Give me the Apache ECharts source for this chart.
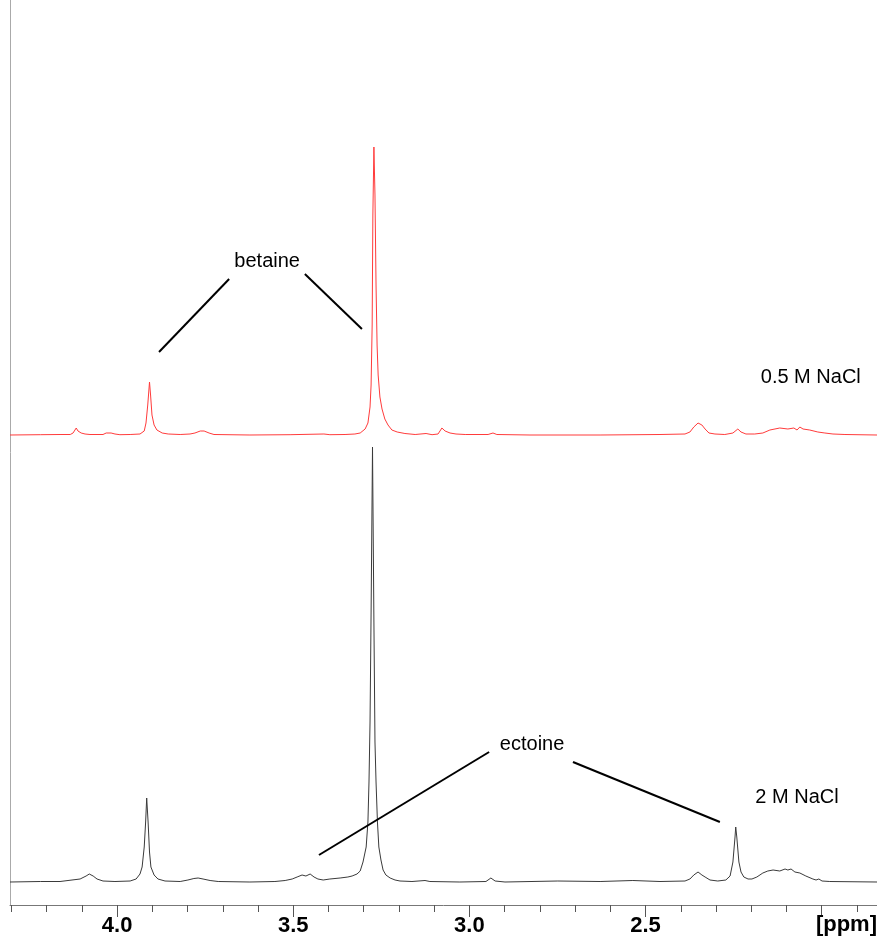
<!DOCTYPE html>
<html>
<head>
<meta charset="utf-8">
<script src="https://cdn.jsdelivr.net/npm/echarts@6/dist/echarts.min.js"></script>
<style>
  html, body { margin: 0; padding: 0; background: #fff; }
  #chart { width: 877px; height: 941px; }
</style>
</head>
<body>
<div id="chart"></div>
<script>
// Chemical shift range (ppm), axis runs right-to-left
const ppmRange = [1.843, 4.304];
const minorTicks = [1.9, 2.0, 2.1, 2.2, 2.3, 2.4, 2.5, 2.6, 2.7, 2.8, 2.9, 3.0, 3.1, 3.2, 3.3, 3.4, 3.5, 3.6, 3.7, 3.8, 3.9, 4.0, 4.1, 4.2, 4.3];
const majorTicks = [2.0, 2.5, 3.0, 3.5, 4.0];
const tickLabels = [2.5, 3.0, 3.5, 4.0];
const axisUnit = '[ppm]';

// 0.5 M NaCl spectrum [ppm, intensity]
const spectrum05M = [
  [4.304,0],[4.218,0.3],[4.162,0.5],[4.133,0.5],[4.125,2],[4.116,7],[4.111,4],[4.102,2],[4.091,1],[4.077,0.5],
  [4.040,0.5],[4.031,2],[4.026,4],[4.017,2],[4.006,1],[3.992,0.3],[3.963,0.5],[3.935,1],[3.923,4],[3.918,12],
  [3.913,30],[3.908,53],[3.905,40],[3.901,20],[3.895,10],[3.887,5],[3.872,2],[3.855,1],[3.821,0.5],[3.793,1],
  [3.779,2],[3.764,4],[3.753,4],[3.739,2],[3.725,0.5],[3.623,0],[3.509,0.3],[3.413,1],[3.396,0.3],[3.353,0.5],
  [3.325,1],[3.310,2],[3.296,6],[3.288,12],[3.282,28],[3.279,50],[3.276,110],[3.274,220],[3.271,288],[3.268,240],
  [3.265,150],[3.262,90],[3.259,60],[3.254,38],[3.248,26],[3.240,16],[3.231,10],[3.220,5],[3.205,3],[3.183,1.5],
  [3.154,0.5],[3.123,1.5],[3.106,0.3],[3.089,1],[3.078,7],[3.069,4],[3.055,2],[3.038,1],[3.012,0.5],[2.947,0.5],
  [2.933,2],[2.922,0.5],[2.828,0],[2.629,0],[2.459,0.5],[2.388,1],[2.374,3],[2.363,8],[2.351,12],[2.346,10],
  [2.340,10],[2.331,6],[2.320,2],[2.303,1],[2.275,0.5],[2.252,2],[2.238,6],[2.229,3],[2.215,1],[2.190,1],
  [2.167,2],[2.147,5],[2.119,7],[2.096,6],[2.079,7],[2.070,5],[2.062,8],[2.053,6],[2.034,5],[2.011,3],
  [1.991,2],[1.968,1],[1.934,0.5],[1.843,0]
];

// 2 M NaCl spectrum [ppm, intensity]
const spectrum2M = [
  [4.304,0],[4.218,0.5],[4.162,0.5],[4.128,2],[4.105,3],[4.088,6],[4.079,8],[4.068,6],[4.057,3],[4.040,1],
  [4.006,0.5],[3.963,1],[3.946,3],[3.935,8],[3.929,15],[3.923,35],[3.919,60],[3.916,84],[3.912,60],[3.908,30],
  [3.904,15],[3.895,7],[3.884,3],[3.864,1],[3.821,0.5],[3.799,2],[3.782,3.5],[3.770,4],[3.756,3],[3.736,1.5],
  [3.713,0.5],[3.623,0],[3.552,0.5],[3.523,1.5],[3.503,3],[3.489,5],[3.475,7],[3.464,6],[3.452,8],[3.441,5],
  [3.430,3],[3.415,2],[3.396,3],[3.367,4],[3.345,5],[3.333,6],[3.319,8],[3.310,11],[3.302,20],[3.293,35],
  [3.288,60],[3.285,100],[3.282,160],[3.279,270],[3.275,435],[3.271,260],[3.268,140],[3.265,100],[3.261,60],[3.257,35],
  [3.251,22],[3.245,12],[3.237,7],[3.225,4],[3.211,2],[3.197,1],[3.163,0.5],[3.126,1.5],[3.112,0.5],[3.027,0],
  [2.953,0.5],[2.939,4],[2.927,1],[2.899,0],[2.749,1],[2.629,0.5],[2.536,1.5],[2.459,0.5],[2.388,1],[2.374,3],
  [2.363,7],[2.351,10],[2.346,8],[2.340,7],[2.331,5],[2.317,2],[2.295,1],[2.272,2],[2.260,6],[2.252,20],
  [2.246,45],[2.244,55],[2.241,45],[2.235,20],[2.229,10],[2.221,5],[2.209,3],[2.198,3],[2.184,5],[2.167,9],
  [2.153,11],[2.138,12],[2.119,11],[2.104,13],[2.096,12],[2.087,13],[2.076,10],[2.062,9],[2.045,6],[2.025,3],
  [2.016,2],[2.008,3],[1.999,1],[1.977,0.5],[1.843,0]
];

// Annotations (data space: [ppm, intensity])
const betaineLines = [[[3.881, 83], [3.682, 156]], [[3.467, 161], [3.305, 106]]];
const betaineLabel = { text: 'betaine', at: [3.574, 174] };
const label05M = { text: '0.5 M NaCl', at: [2.031, 58] };
const ectoineLines = [[[3.427, 27], [2.944, 130]], [[2.706, 120], [2.289, 60]]];
const ectoineLabel = { text: 'ectoine', at: [2.822, 138] };
const label2M = { text: '2 M NaCl', at: [2.070, 85] };

const FONT = "'Liberation Sans', Arial, Helvetica, sans-serif";

function lineMarks(lines) {
  return lines.map(l => [{ coord: l[0] }, { coord: l[1] }]);
}
function textMarks(items) {
  return items.map(it => ({ name: it.text, coord: it.at }));
}
const markLineStyle = {
  silent: true, symbol: ['none', 'none'], animation: false,
  lineStyle: { color: '#000', width: 2, type: 'solid' },
  label: { show: false }, emphasis: { disabled: true }
};
const markPointStyle = {
  silent: true, symbol: 'circle', symbolSize: 0, animation: false,
  itemStyle: { color: 'rgba(0,0,0,0)' },
  label: { show: true, position: 'inside', formatter: p => p.name, color: '#000', fontSize: 20, fontFamily: FONT },
  emphasis: { disabled: true }
};

const chart = echarts.init(document.getElementById('chart'), null, { renderer: 'canvas' });
chart.setOption({
  animation: false,
  backgroundColor: '#fff',
  title: {
    text: axisUnit, right: 0, top: 914, padding: 0,
    textStyle: { fontSize: 22, fontWeight: 'bold', color: '#000', fontFamily: FONT }
  },
  grid: { left: 10, right: 0, top: 0, bottom: 36, containLabel: false },
  xAxis: [
    {
      type: 'value', inverse: true, min: ppmRange[0], max: ppmRange[1], position: 'bottom',
      axisLine: { show: true, onZero: false, lineStyle: { color: '#777', width: 1 } },
      axisTick: { show: true, customValues: minorTicks, length: 7, lineStyle: { color: '#555', width: 1 } },
      axisLabel: { show: false }, splitLine: { show: false }
    },
    {
      type: 'value', inverse: true, min: ppmRange[0], max: ppmRange[1], position: 'bottom',
      axisLine: { show: false, onZero: false },
      axisTick: { show: true, customValues: majorTicks, length: 12, lineStyle: { color: '#555', width: 1 } },
      axisLabel: {
        show: true, customValues: tickLabels, margin: 10,
        formatter: v => Number(v).toFixed(1),
        fontSize: 22, fontWeight: 'bold', color: '#000', fontFamily: FONT
      },
      splitLine: { show: false }
    }
  ],
  yAxis: [
    {
      type: 'value', min: -23, max: 882, position: 'left',
      axisLine: { show: true, onZero: false, lineStyle: { color: '#aaa', width: 1 } },
      axisTick: { show: false }, axisLabel: { show: false }, splitLine: { show: false }
    },
    {
      type: 'value', min: -470, max: 435, position: 'left', show: false,
      splitLine: { show: false }
    }
  ],
  series: [
    {
      name: '2 M NaCl', type: 'line', xAxisIndex: 0, yAxisIndex: 0,
      data: spectrum2M, showSymbol: false, symbol: 'none', smooth: false,
      lineStyle: { color: '#3a3a3a', width: 1 }, silent: true,
      markLine: Object.assign({ data: lineMarks(ectoineLines) }, markLineStyle),
      markPoint: Object.assign({ data: textMarks([ectoineLabel, label2M]) }, markPointStyle)
    },
    {
      name: '0.5 M NaCl', type: 'line', xAxisIndex: 0, yAxisIndex: 1,
      data: spectrum05M, showSymbol: false, symbol: 'none', smooth: false,
      lineStyle: { color: '#ff3b3b', width: 1 }, silent: true,
      markLine: Object.assign({ data: lineMarks(betaineLines) }, markLineStyle),
      markPoint: Object.assign({ data: textMarks([betaineLabel, label05M]) }, markPointStyle)
    }
  ]
});
</script>
</body>
</html>
